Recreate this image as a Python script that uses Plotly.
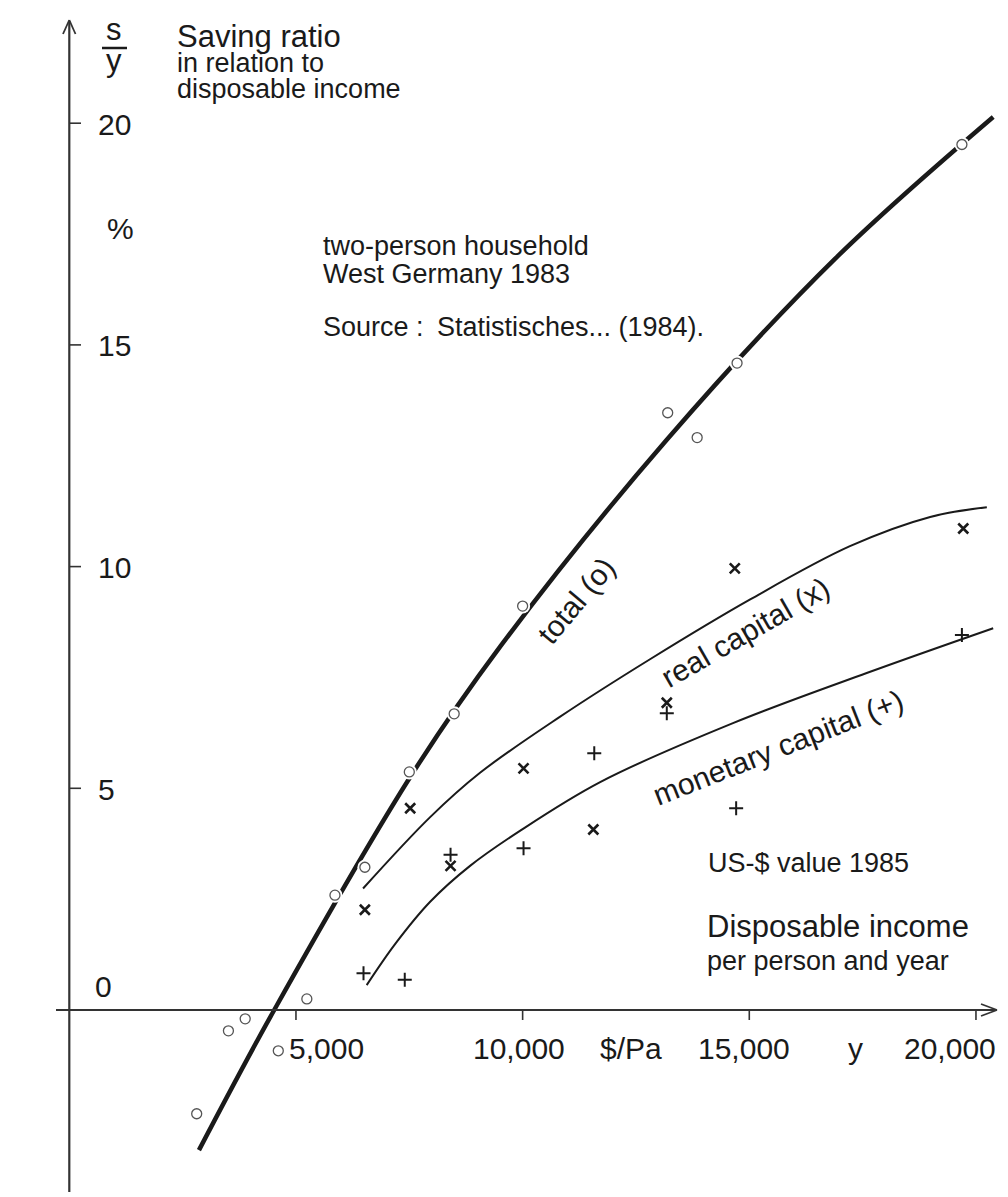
import plotly.graph_objects as go

# ---------------- data ----------------
# observed saving ratios, two-person households, West Germany 1983
income_total = [2810, 3510, 3880, 4610, 5240, 5860, 6520, 7500, 8490, 10000, 13200, 13850, 14730, 19690]
ratio_total = [-2.34, -0.47, -0.20, -0.92, 0.25, 2.59, 3.22, 5.37, 6.68, 9.11, 13.47, 12.91, 14.59, 19.52]

income_real = [6520, 7520, 8410, 10020, 11560, 13180, 14680, 19720]
ratio_real = [2.26, 4.55, 3.25, 5.45, 4.07, 6.93, 9.96, 10.86]

income_monetary = [6490, 7400, 8410, 10020, 11580, 13180, 14710, 19690]
ratio_monetary = [0.83, 0.68, 3.50, 3.65, 5.79, 6.69, 4.55, 8.46]

# hand-drawn trend curves
curve_total_x = [2860, 4520, 7580, 9500, 13180, 16890, 20380]
curve_total_y = [-3.16, 0.0, 5.35, 8.19, 12.86, 16.94, 20.14]

curve_real_x = [6480, 7960, 9060, 10820, 12810, 15020, 17220, 18990, 20240]
curve_real_y = [2.74, 4.35, 5.35, 6.61, 7.91, 9.26, 10.46, 11.12, 11.34]

curve_monetary_x = [6560, 7190, 7960, 8840, 9940, 11710, 14640, 17590, 20380]
curve_monetary_y = [0.56, 1.49, 2.44, 3.25, 4.04, 5.14, 6.47, 7.60, 8.61]

x_ticks = [5000, 10000, 15000, 20000]
x_tick_labels = ["5,000", "10,000", "15,000", "20,000"]
y_ticks = [5, 10, 15, 20]
y_tick_labels = ["5", "10", "15", "20"]

# ---------------- page geometry ----------------
W, H = 1008, 1197
PX0, PXS = 69.3, 0.045333    # pixel of x=0, pixels per $
PY0, PYS = 1010.0, 44.34     # pixel of s=0, pixels per %


def dx(px):
    return (px - PX0) / PXS


def dy(py):
    return (PY0 - py) / PYS


INK = "#1a1a1a"
AX = "#333333"
FONT = "Liberation Sans, Arial, Helvetica, sans-serif"

fig = go.Figure()

# fitted curves
fig.add_trace(go.Scatter(x=curve_total_x, y=curve_total_y, mode="lines",
                         line=dict(color=INK, width=4.5, shape="spline", smoothing=1.0),
                         hoverinfo="skip"))
fig.add_trace(go.Scatter(x=curve_real_x, y=curve_real_y, mode="lines",
                         line=dict(color=INK, width=2, shape="spline", smoothing=1.0),
                         hoverinfo="skip"))
fig.add_trace(go.Scatter(x=curve_monetary_x, y=curve_monetary_y, mode="lines",
                         line=dict(color=INK, width=2, shape="spline", smoothing=1.0),
                         hoverinfo="skip"))

# white halo behind the circles (gap in the thick line)
fig.add_trace(go.Scatter(x=income_total, y=ratio_total, mode="markers",
                         marker=dict(symbol="circle", size=15, color="white", line=dict(width=0)),
                         hoverinfo="skip"))
fig.add_trace(go.Scatter(x=income_total, y=ratio_total, mode="markers",
                         marker=dict(symbol="circle", size=10, color="white",
                                     line=dict(color="#555555", width=1.3)),
                         name="total"))
fig.add_trace(go.Scatter(x=income_real, y=ratio_real, mode="markers",
                         marker=dict(symbol="x-thin", size=10, line=dict(color=INK, width=2.6)),
                         name="real capital"))
fig.add_trace(go.Scatter(x=income_monetary, y=ratio_monetary, mode="markers",
                         marker=dict(symbol="cross-thin", size=10, line=dict(color=INK, width=2)),
                         name="monetary capital"))

shapes = []
# axes
shapes.append(dict(type="line", x0=dx(56), x1=dx(996), y0=0, y1=0, line=dict(color=AX, width=2)))
shapes.append(dict(type="line", x0=0, x1=0, y0=dy(1192), y1=dy(21), line=dict(color=AX, width=2.2)))
# arrowheads (open)
shapes.append(dict(type="line", x0=dx(981), y0=dy(1004), x1=dx(997), y1=0, line=dict(color=AX, width=1.8)))
shapes.append(dict(type="line", x0=dx(981), y0=dy(1016), x1=dx(997), y1=0, line=dict(color=AX, width=1.8)))
shapes.append(dict(type="line", x0=dx(63), y0=dy(34), x1=0, y1=dy(20), line=dict(color=AX, width=1.8)))
shapes.append(dict(type="line", x0=dx(75.5), y0=dy(34), x1=0, y1=dy(20), line=dict(color=AX, width=1.8)))
# ticks
for t in x_ticks:
    shapes.append(dict(type="line", x0=t, x1=t, y0=0, y1=dy(1020), line=dict(color=AX, width=1.6)))
for t in y_ticks:
    shapes.append(dict(type="line", x0=0, x1=dx(81), y0=t, y1=t, line=dict(color=AX, width=1.6)))
# fraction bar s/y
shapes.append(dict(type="line", x0=dx(102), x1=dx(127), y0=dy(48), y1=dy(48), line=dict(color=INK, width=2.5)))

annotations = []


def ann(text, px, py, size, xanchor="center", angle=0, yanchor="middle", align="left"):
    annotations.append(dict(text=text, x=dx(px), y=dy(py), xref="x", yref="y",
                            xanchor=xanchor, yanchor=yanchor, showarrow=False, align=align,
                            textangle=angle, font=dict(family=FONT, size=size, color=INK)))


# tick labels
x_label_px = [326, 519, 743.6, 949.6]
for lab, px in zip(x_tick_labels, x_label_px):
    ann(lab, px, 1048, 30)
ann("$/Pa", 631, 1048, 30)
ann("y", 855, 1048, 30)
for lab, t in zip(y_tick_labels, y_ticks):
    annotations.append(dict(text=lab, x=dx(96), y=t, xref="x", yref="y", xanchor="left",
                            yanchor="middle", yshift=-1, showarrow=False,
                            font=dict(family=FONT, size=30, color=INK)))
ann("0", 103, 986.5, 30)
ann("%", 120, 228, 30)

# y-axis title: s over y (one text block), and its description
ann("<span style='font-size:31px'>s</span><br><span style='font-size:31px'>y</span>",
    114, 45, 24, align="center")
ann("<span style='font-size:31px'>Saving ratio</span><br>"
    "<span style='font-size:27px'>in relation to</span><br>"
    "<span style='font-size:27px'>disposable income</span>",
    175, 61, 19.5, xanchor="left")

# x-axis description
ann("US-$ value 1985", 706, 863.3, 27, xanchor="left")
ann("<span style='font-size:31px'>Disposable income</span><br>"
    "<span style='font-size:27px'>per person and year</span>",
    705, 942, 25.5, xanchor="left")

# notes
ann("<span style='font-size:27px'>two-person household</span><br>"
    "<span style='font-size:27px'>West Germany 1983</span>",
    321, 260, 21.8, xanchor="left")
ann("Source :", 321, 327.3, 27, xanchor="left")
ann("Statistisches... (1984).", 435, 327.3, 27, xanchor="left")

# curve labels
ann("total (o)", 576, 600, 30, angle=-50)
ann("real capital (x)", 745, 632, 30, angle=-30)
ann("monetary capital (+)", 778, 747, 30, angle=-21.5)

fig.update_layout(
    width=W, height=H,
    margin=dict(l=0, r=0, t=0, b=0),
    paper_bgcolor="white", plot_bgcolor="white",
    showlegend=False, hovermode=False,
    xaxis=dict(range=[dx(0), dx(W)], visible=False, fixedrange=True),
    yaxis=dict(range=[dy(H), dy(0)], visible=False, fixedrange=True),
    shapes=shapes, annotations=annotations,
)

fig.write_html("out.html", config={"displayModeBar": False})
